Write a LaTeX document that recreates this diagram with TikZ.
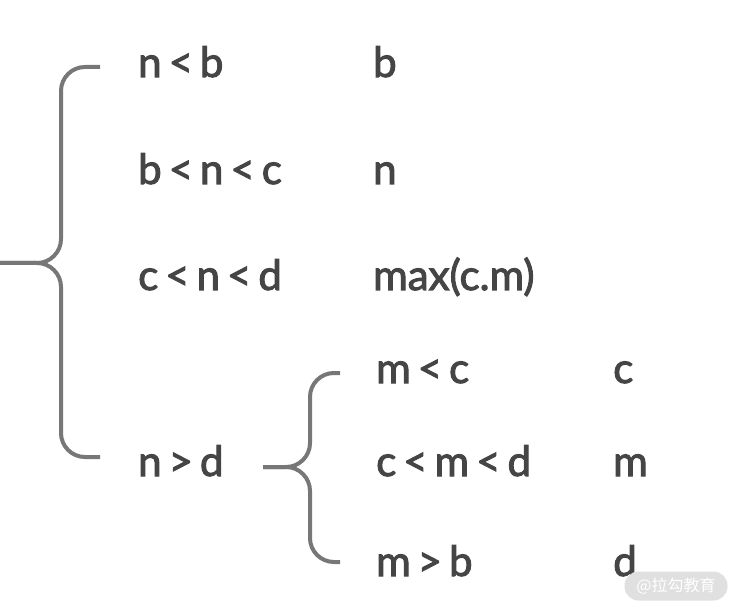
\documentclass[tikz,border=0pt]{standalone}
\usepackage{fontspec}
\setmainfont{Lato}
\newfontfamily\condfont{Lato}[FakeBold=2.4, WordSpace=0.65]
\newfontfamily\cjkfont{Noto Sans CJK SC}
\definecolor{txtgray}{HTML}{454545}
\definecolor{linegray}{HTML}{777777}
\definecolor{markgray}{HTML}{E0E0E0}
\tikzset{
  cond/.style={anchor=base west, inner sep=0pt, text=txtgray,
    font=\condfont\fontsize{42}{46}\selectfont},
  brace/.style={draw=linegray, line width=4pt, rounded corners=24pt}
}
\begin{document}
\begin{tikzpicture}[x=1pt,y=-1pt]
      \useasboundingbox (0,0) rectangle (738,609);
      \draw
        (138,77) node[cond] (nb){n < b}
        (373,77) node[cond] (rb){b}
        (138,184) node[cond] (bnc){b < n < c}
        (373,184) node[cond] (rn){n}
        (138,290) node[cond] (cnd){c < n < d}
        (373,290) node[cond] (rmax){max(c.m)}
        (138,476) node[cond] (nd){n > d}
        (376,383) node[cond] (mc){m < c}
        (613,383) node[cond] (rc){c}
        (376,476) node[cond] (cmd){c < m < d}
        (613,476) node[cond] (rm){m}
        (376,576) node[cond] (mb){m > b}
        (613,576) node[cond] (rd){d};
      % brace tips
      \coordinate (root) at (0,263);
      \coordinate (top) at (100,67);
      \coordinate (bot) at (100,457);
      \coordinate (sub) at (263,467);
      \coordinate (subtop) at (340,373);
      \coordinate (subbot) at (340,562);
      \begin{scope}[brace]
        \draw (top) -- (61,67) -- (61,263) -- (root);
        \draw (bot) -- (61,457) -- (61,263) -- (root);
        \draw (subtop) -- (310,373) -- (310,467) -- (sub);
        \draw (subbot) -- (310,562) -- (310,467) -- (sub);
      \end{scope}
      % watermark
      \node[fill=markgray, rounded corners=14pt, minimum width=103pt,
        minimum height=29pt, text=white, font=\cjkfont\fontsize{16}{18}\selectfont]
        (mark) at (676,586) {@拉勾教育};
    \end{tikzpicture}
\end{document}
